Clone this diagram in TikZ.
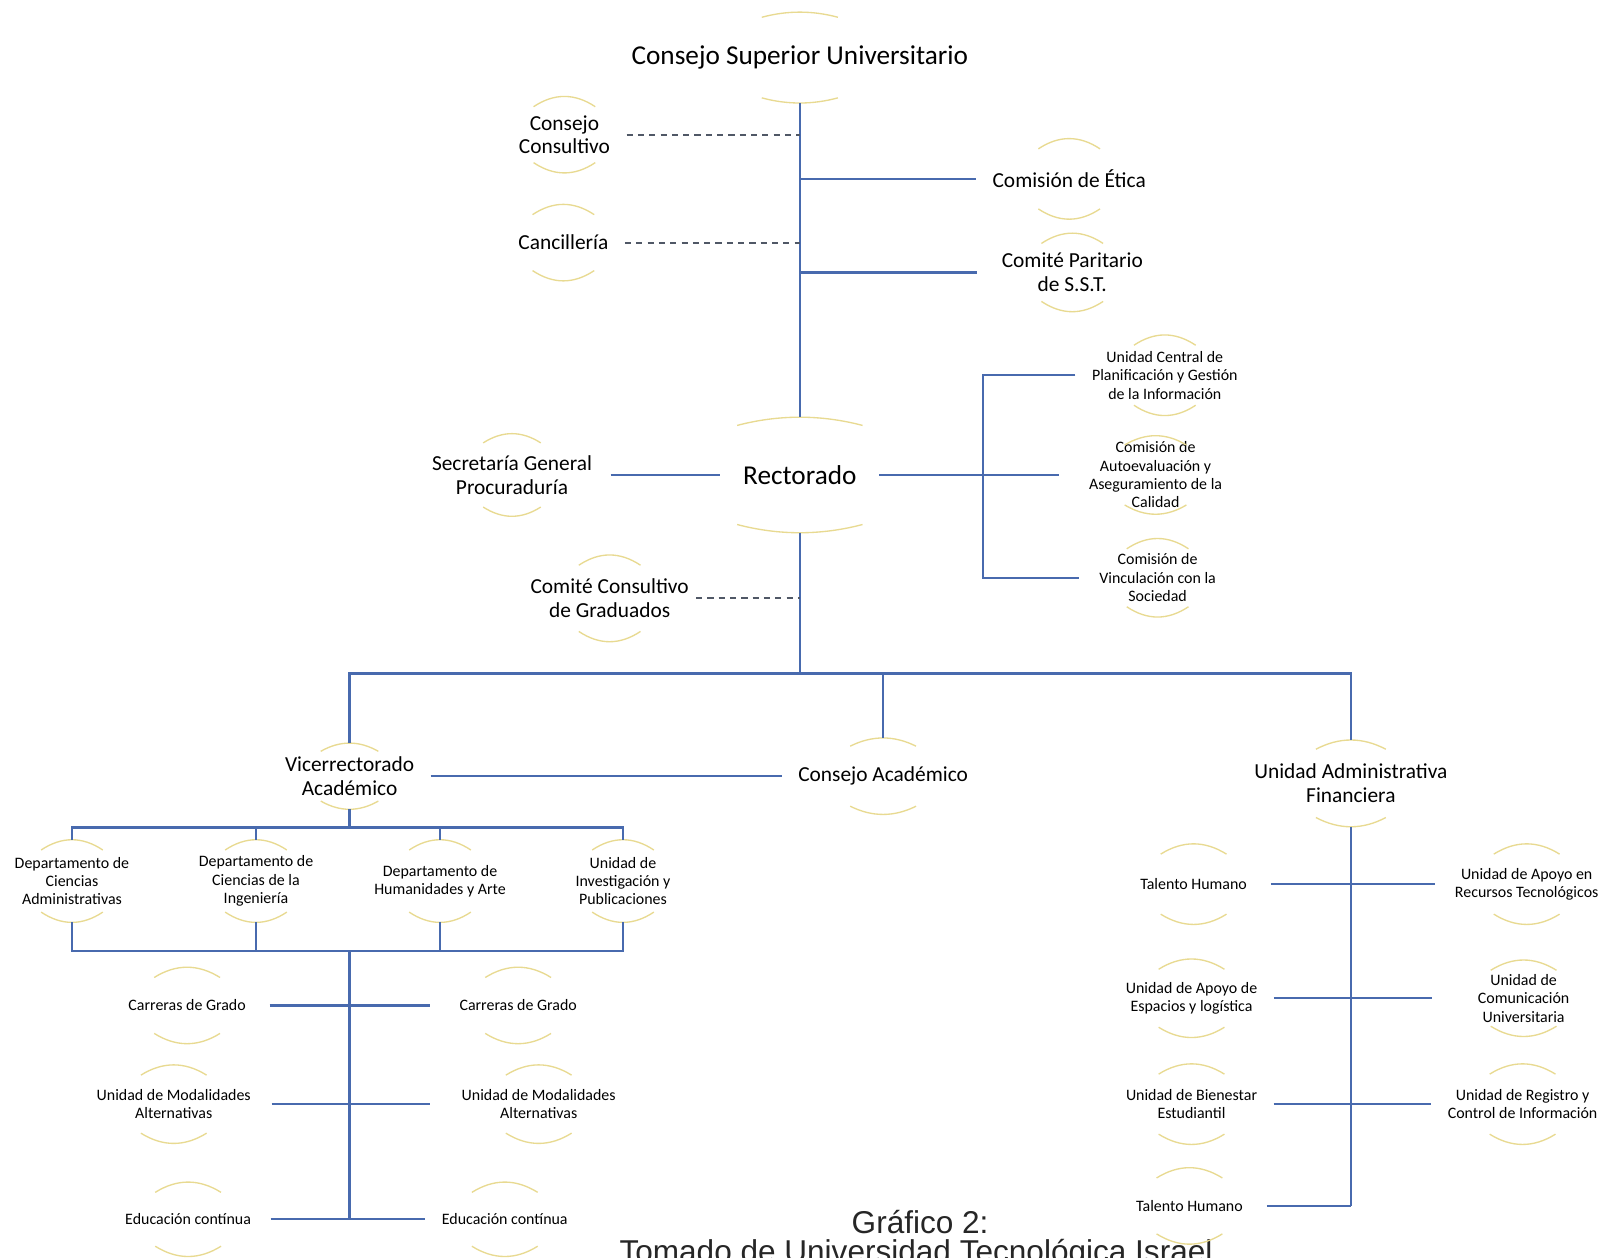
\documentclass[tikz,border=0pt]{standalone}
\usepackage{fontspec}
\setmainfont{Carlito}
\newfontfamily\capfont{Liberation Sans}
\definecolor{linkblue}{RGB}{72,106,174}
\definecolor{auxgray}{RGB}{80,88,102}
\definecolor{ringyel}{RGB}{232,218,145}
\tikzset{
 big/.style={align=center,inner ysep=0pt,inner xsep=16pt,font=\fontsize{26.5}{30}\selectfont},
 mid/.style={align=center,inner ysep=0pt,inner xsep=16pt,font=\fontsize{20.8}{23}\selectfont},
 small/.style={align=center,inner ysep=0pt,inner xsep=16pt,font=\fontsize{15.5}{17.8}\selectfont},
 lcol/.style={small,minimum width=150pt},
 rcol/.style={small,minimum width=178pt},
 link/.style={draw=linkblue,line width=2.2pt},
 aux/.style={draw=auxgray,line width=1.8pt,dash pattern=on 6pt off 5pt},
 ring/.style={draw=ringyel,line width=1.3pt},
 capt/.style={font=\capfont\fontsize{30.7}{34}\selectfont,text=black!85,anchor=base,inner sep=0pt}
}
\newcommand\ringarcs[3]{\draw[ring]([shift={(-#2,#3)}]#1.north)..controls([shift={(-#2/3,-#3/3)}]#1.north)and([shift={(#2/3,-#3/3)}]#1.north)..([shift={(#2,#3)}]#1.north)([shift={(-#2,-#3)}]#1.south)..controls([shift={(-#2/3,#3/3)}]#1.south)and([shift={(#2/3,#3/3)}]#1.south)..([shift={(#2,-#3)}]#1.south);}
\begin{document}
\begin{tikzpicture}[x=1pt,y=-1pt]
\useasboundingbox(0,0)rectangle(1568,1223);
\fill[white](0,0)rectangle(1568,1223);
\node[big,minimum height=88pt](csu)at(778,56){Consejo Superior Universitario};
\node[mid,minimum height=74pt](ccons)at(549,131){Consejo\\Consultivo};
\node[mid,minimum height=74pt](canc)at(548,236){Cancillería};
\node[mid,minimum height=78pt](etica)at(1040,174){Comisión de Ética};
\node[mid,minimum height=76pt,inner xsep=24pt](cpsst)at(1043,265){Comité Paritario\\de S.S.T.};
\node[big,minimum height=112pt,inner xsep=22pt](rect)at(778,462){Rectorado};
\node[mid,minimum height=80pt,inner xsep=18pt](secgen)at(498,462){Secretaría General\\Procuraduría};
\node[small,minimum height=78pt,minimum width=170pt](ucpgi)at(1133,365){Unidad Central de\\Planificación y Gestión\\de la Información};
\node[small,minimum height=76pt,minimum width=188pt](cauto)at(1124,462){Comisión de\\Autoevaluación y\\Aseguramiento de la\\Calidad};
\node[small,minimum height=76pt,minimum width=152pt](cvinc)at(1126,562){Comisión de\\Vinculación con la\\Sociedad};
\node[mid,minimum height=84pt,inner xsep=7pt](ccg)at(593,582){Comité Consultivo\\de Graduados};
\node[mid,minimum height=64pt](vra)at(340,755){Vicerrectorado\\Académico};
\node[mid,minimum height=74pt](cacad)at(859,755){Consejo Académico};
\node[mid,minimum height=84pt](uaf)at(1314,762){Unidad Administrativa\\Financiera};
\node[small,minimum height=80pt](dca)at(70,857){Departamento de\\Ciencias\\Administrativas};
\node[small,minimum height=80pt](dci)at(249,857){Departamento de\\Ciencias de la\\Ingeniería};
\node[small,minimum height=80pt](dha)at(428,857){Departamento de\\Humanidades y Arte};
\node[small,minimum height=80pt](uip)at(606,857){Unidad de\\Investigación y\\Publicaciones};
\node[small,minimum height=74pt,minimum width=160pt](cg1)at(182,978){Carreras de Grado};
\node[small,minimum height=74pt,minimum width=172pt](cg2)at(504,978){Carreras de Grado};
\node[small,minimum height=76pt,minimum width=190pt](uma1)at(169,1074){Unidad de Modalidades\\Alternativas};
\node[small,minimum height=76pt,minimum width=212pt](uma2)at(524,1074){Unidad de Modalidades\\Alternativas};
\node[small,minimum height=72pt,minimum width=160pt](ec1)at(183,1186){Educación contínua};
\node[small,minimum height=72pt,minimum width=146pt](ec2)at(491,1186){Educación contínua};
\node[lcol,minimum height=78pt](th1)at(1161,860){Talento Humano};
\node[rcol,minimum height=78pt](uart)at(1485,860){Unidad de Apoyo en\\Recursos Tecnológicos};
\node[lcol,minimum height=76pt](uael)at(1159,971){Unidad de Apoyo de\\Espacios y logística};
\node[rcol,minimum height=74pt](ucu)at(1482,971){Unidad de\\Comunicación\\Universitaria};
\node[lcol,minimum height=78pt](ube)at(1159,1074){Unidad de Bienestar\\Estudiantil};
\node[rcol,minimum height=78pt](urci)at(1481,1074){Unidad de Registro y\\Control de Información};
\node[lcol,minimum height=74pt](th2)at(1157,1173){Talento Humano};
\node[capt](g2)at(895,1200){Gráfico 2:};
\node[capt](src)at(891,1228){Tomado de Universidad Tecnológica Israel};
\foreach\n/\w/\s in{csu/37/5,rect/61/8,ccons/30/10,canc/30/10,etica/30/10,cpsst/30/10,secgen/28/9,ucpgi/30/10,cauto/30/9,cvinc/30/10,ccg/30/10,vra/28/8,cacad/32/8,uaf/34/9,dca/30/10,dci/30/10,dha/30/10,uip/30/10,cg1/32/10,cg2/32/10,uma1/32/10,uma2/32/10,ec1/32/10,ec2/32/10,th1/32/10,uart/32/10,uael/32/10,ucu/32/10,ube/32/10,urci/32/10,th2/32/10}\ringarcs{\n}{\w}{\s};
\draw[link](csu.south)--(rect.north);
\draw[link](etica.west-|csu.south)--(etica.west)(cpsst.west-|csu.south)--(cpsst.west);
\draw[aux](ccons.east)--(ccons.east-|csu.south)(canc.east)--(canc.east-|csu.south);
\draw[link](secgen.east)--(rect.west)(rect.east)--(cauto.west);
\coordinate(brk)at(956,462);
\draw[link](ucpgi.west)--(ucpgi.west-|brk)--(cvinc.west-|brk)--(cvinc.west);
\coordinate(hub)at(778,655);
\draw[link](rect.south)--(hub)(vra.north)|-(hub)-|(uaf.north)(cacad.north)--(cacad.north|-hub);
\draw[aux](ccg.east)--(ccg.east-|rect.south);
\draw[link](vra.east)--(cacad.west);
\coordinate(dbar)at(340,805);\coordinate(gbar)at(340,925);
\draw[link](vra.south)--(dbar)(dca.north)|-(dbar)-|(uip.north)(dci.north)--(dci.north|-dbar)(dha.north)--(dha.north|-dbar);
\draw[link](dca.south)|-(gbar)-|(uip.south)(dci.south)--(dci.south|-gbar)(dha.south)--(dha.south|-gbar);
\draw[link](gbar)--(gbar|-ec1.east)(cg1.east)--(cg2.west)(uma1.east)--(uma2.west)(ec1.east)--(ec2.west);
\draw[link](uaf.south)--(uaf.south|-th2.east)(th1.east)--(uart.west)(uael.east)--(ucu.west)(ube.east)--(urci.west)(th2.east)--(th2.east-|uaf.south);
\end{tikzpicture}
\end{document}
